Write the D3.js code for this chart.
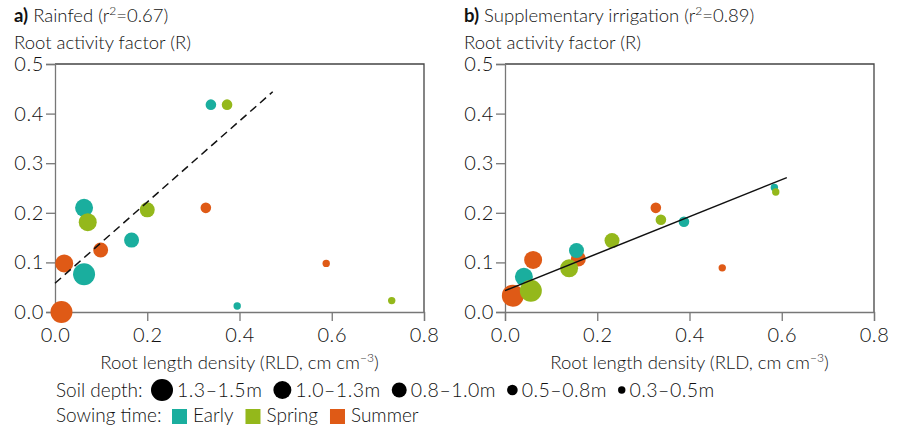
<!DOCTYPE html>
<html><head><meta charset="utf-8">
<script src="https://cdn.jsdelivr.net/npm/d3@7"></script>
<style>
body{margin:0;background:#fff;}
svg text{font-family:Lato,"Open Sans",sans-serif;fill:#111;font-weight:300;}
</style></head>
<body><svg id="c" width="900" height="436"></svg>
<script>
// ---- data ----
const sowingTimes = ["Early","Spring","Summer"];
const sowingColors = ["#1aae9e","#94b81b","#df5a16"];
const depthClasses = ["1.3–1.5m","1.0–1.3m","0.8–1.0m","0.5–0.8m","0.3–0.5m"];
const xTicks = [0,0.2,0.4,0.6,0.8];
const yTicks = [0,0.1,0.2,0.3,0.4,0.5];

// Rainfed (panel a)
const rainfedRLD    = [0.063,0.063,0.166,0.338,0.395, 0.071,0.200,0.373,0.730, 0.014,0.020,0.099,0.327,0.588];
const rainfedR      = [0.076,0.210,0.145,0.418,0.012, 0.181,0.206,0.418,0.023, 0.000,0.098,0.125,0.210,0.098];
const rainfedSowing = [0,0,0,0,0, 1,1,1,1, 2,2,2,2,2];
const rainfedDepth  = [0,1,2,3,4, 1,2,3,4, 0,1,2,3,4];
const rainfedFitX = [0,0.472];
const rainfedFitY = [0.058,0.444];

// Supplementary irrigation (panel b)
const irrigRLD    = [0.017,0.061,0.159,0.327,0.471, 0.041,0.155,0.388,0.584, 0.056,0.139,0.232,0.338,0.587];
const irrigR      = [0.033,0.105,0.107,0.210,0.089, 0.071,0.124,0.182,0.251, 0.043,0.088,0.144,0.186,0.242];
const irrigSowing = [2,2,2,2,2, 0,0,0,0, 1,1,1,1,1];
const irrigDepth  = [0,1,2,3,4, 1,2,3,4, 0,1,2,3,4];
const irrigFitX = [0,0.611];
const irrigFitY = [0.043,0.271];

// ---- drawing ----
const svg = d3.select("#c");
const FS = "18.5px";
const rScale = d3.scaleOrdinal().domain(d3.range(5)).range([11,9,7.5,5.3,3.7]);
const color = d3.scaleOrdinal().domain(d3.range(3)).range(sowingColors);

function panel(opts){
  const {x0, x1, label, title, rld, R, sow, dep, fitX, fitY, dashed} = opts;
  const x = d3.scaleLinear().domain([0,0.8]).range([x0,x1]);
  const y = d3.scaleLinear().domain([0,0.5]).range([312,64]);
  const g = svg.append("g");

  // titles
  const t = g.append("text").attr("x", x0-41).attr("y", 22).style("font-size",FS);
  t.append("tspan").style("font-weight","bold").text(label);
  t.append("tspan").text(" " + title + " (r");
  t.append("tspan").attr("dy",-7).style("font-size","12px").text("2");
  t.append("tspan").attr("dy",7).text("=" + opts.r2 + ")");
  g.append("text").attr("x", x0-41).attr("y", 49).style("font-size",FS).text("Root activity factor (R)");

  // frame top/right
  g.append("path").attr("d", `M${x0},${y(0.5)}H${x1}V${y(0)}`)
    .attr("fill","none").attr("stroke","#444").attr("stroke-width",1.3);

  // axes
  const xa = g.append("g").attr("transform",`translate(0,${y(0)})`)
    .call(d3.axisBottom(x).tickValues(xTicks).tickFormat(d3.format(".1f")).tickSize(9).tickPadding(3));
  const ya = g.append("g").attr("transform",`translate(${x0},0)`)
    .call(d3.axisLeft(y).tickValues(yTicks).tickFormat(d3.format(".1f")).tickSize(9).tickPadding(2));
  [xa,ya].forEach(a=>{
    a.select(".domain").attr("stroke","#777").attr("stroke-width",1.3);
    a.selectAll(".tick line").attr("stroke","#777").attr("stroke-width",1.3);
    a.selectAll(".tick text").style("font-size","20px").style("font-family","Lato, sans-serif")
      .style("font-weight","300").style("letter-spacing","0.6px").attr("fill","#111");
  });
  xa.selectAll(".tick text").attr("dy","0.88em");

  // axis title
  const xt = g.append("text").attr("x",(x0+x1)/2).attr("y",369).attr("text-anchor","middle").style("font-size",FS);
  xt.append("tspan").text("Root length density (RLD, cm cm");
  xt.append("tspan").attr("dy",-7).style("font-size","12px").text("−3");
  xt.append("tspan").attr("dy",7).text(")");

  // points
  g.selectAll("circle.pt").data(d3.range(rld.length)).join("circle")
    .attr("class","pt")
    .attr("cx", i=>x(rld[i])).attr("cy", i=>y(R[i]))
    .attr("r", i=>rScale(dep[i])).attr("fill", i=>color(sow[i]));

  // fit line
  g.append("line")
    .attr("x1", x(fitX[0])).attr("y1", y(fitY[0]))
    .attr("x2", x(fitX[1])).attr("y2", y(fitY[1]))
    .attr("stroke","#111").attr("stroke-width",1.5)
    .attr("stroke-dasharray", dashed ? "8,5" : null);
}

panel({x0:55, x1:424, label:"a)", title:"Rainfed", r2:"0.67",
  rld:rainfedRLD, R:rainfedR, sow:rainfedSowing, dep:rainfedDepth, fitX:rainfedFitX, fitY:rainfedFitY, dashed:true});
panel({x0:505, x1:874, label:"b)", title:"Supplementary irrigation", r2:"0.89",
  rld:irrigRLD, R:irrigR, sow:irrigSowing, dep:irrigDepth, fitX:irrigFitX, fitY:irrigFitY, dashed:false});

// ---- legend ----
const lg = svg.append("g");
lg.append("text").attr("x",56).attr("y",397).style("font-size","19px").text("Soil depth:");
let cx = 151;
depthClasses.forEach((d,i)=>{
  const r = rScale(i);
  lg.append("circle").attr("cx",cx + r).attr("cy",390).attr("r",r).attr("fill","#000");
  const tx = lg.append("text").attr("x",cx + 2*r + 4).attr("y",397)
    .style("font-size","19.5px").style("letter-spacing","0.5px").text(d);
  cx = cx + 2*r + 4 + tx.node().getComputedTextLength() + 11;
});
lg.append("text").attr("x",56).attr("y",422).style("font-size","19px").text("Sowing time:");
let sx = 172;
sowingTimes.forEach((s,i)=>{
  lg.append("rect").attr("x",sx).attr("y",409).attr("width",15).attr("height",15).attr("fill",color(i));
  const tx = lg.append("text").attr("x",sx+21).attr("y",422).style("font-size","19px").text(s);
  sx = sx + 21 + tx.node().getComputedTextLength() + 12;
});
</script></body></html>
